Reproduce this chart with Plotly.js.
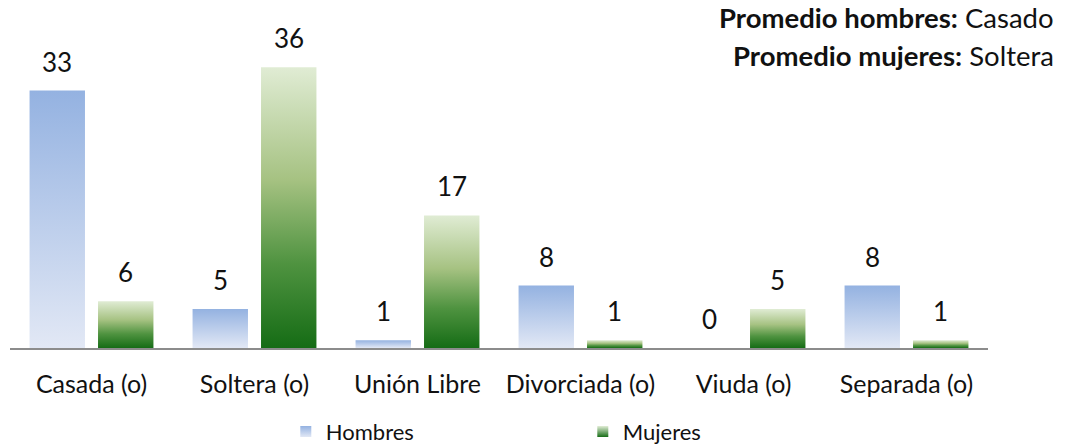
<!DOCTYPE html>
<html>
<head>
<meta charset="utf-8">
<script src="https://cdn.plot.ly/plotly-3.0.1.min.js"></script>
<style>body { margin: 0; background: #fff; }</style>
</head>
<body>
<div id="chart" style="width:1065px;height:447px;"></div>
<script>
// data
var categories = ['Casada (o)', 'Soltera (o)', 'Unión Libre', 'Divorciada (o)', 'Viuda (o)', 'Separada (o)'];
var hombres = [33, 5, 1, 8, 0, 8];
var mujeres = [6, 36, 17, 1, 5, 1];
var seriesNames = ['Hombres', 'Mujeres'];

var FONT = 'Lato, "Noto Sans", sans-serif';
var BAR_W = 0.34;
var INNER_GAP = 0.08;

var blueScale = [[0, '#e2e8f5'], [1, '#94b2e1']];
var greenScale = [[0, '#156c15'], [0.3, '#4f9340'], [0.6, '#a6c282'], [1, '#e0ecd4']];

var traces = [];
var annotations = [];

// one filled box per bar so every bar gets its own vertical gradient
function addBars(values, name, scale, left) {
    values.forEach(function (v, i) {
        var x0 = left ? i - INNER_GAP / 2 - BAR_W : i + INNER_GAP / 2;
        var x1 = x0 + BAR_W;
        if (v > 0) {
            traces.push({
                x: [x0, x1, x1, x0, x0],
                y: [0, 0, v, v, 0],
                type: 'scatter',
                mode: 'lines',
                fill: 'toself',
                line: { width: 0 },
                fillgradient: { type: 'vertical', colorscale: scale },
                showlegend: false,
                hoverinfo: 'skip',
                name: name
            });
        }
        annotations.push({
            x: (x0 + x1) / 2, y: v, xref: 'x', yref: 'y',
            text: String(v), showarrow: false,
            yanchor: 'bottom', yshift: 11,
            font: { family: FONT, size: 26, color: '#111' }
        });
    });
}

addBars(hombres, seriesNames[0], blueScale, true);
addBars(mujeres, seriesNames[1], greenScale, false);

// legend entries
traces.push({
    x: [null], y: [null], type: 'scatter', mode: 'markers', name: seriesNames[0],
    marker: { symbol: 'square', size: 11, color: '#94b2e1', gradient: { type: 'vertical', color: '#e2e8f5' } }
});
traces.push({
    x: [null], y: [null], type: 'scatter', mode: 'markers', name: seriesNames[1],
    marker: { symbol: 'square', size: 11, color: '#e0ecd4', gradient: { type: 'vertical', color: '#156c15' } }
});

annotations.push({
    xref: 'paper', yref: 'paper', x: 1.07, y: 1.058, xanchor: 'right', yanchor: 'middle',
    text: '<b>Promedio hombres:</b> Casado', showarrow: false,
    font: { family: FONT, size: 27.5, color: '#111' }
});
annotations.push({
    xref: 'paper', yref: 'paper', x: 1.07, y: 0.939, xanchor: 'right', yanchor: 'middle',
    text: '<b>Promedio mujeres:</b> Soltera', showarrow: false,
    font: { family: FONT, size: 27.5, color: '#111' }
});

var layout = {
    width: 1065,
    height: 447,
    margin: { l: 10, r: 77, t: 36, b: 99, autoexpand: false },
    paper_bgcolor: '#fff',
    plot_bgcolor: '#fff',
    font: { family: FONT, color: '#111' },
    xaxis: {
        range: [-0.5, categories.length - 0.5],
        tickvals: categories.map(function (c, i) { return i; }),
        ticktext: categories,
        showgrid: false,
        zeroline: false,
        showline: true,
        linecolor: '#8c8c8c',
        linewidth: 2,
        ticks: '',
        ticklabelstandoff: 13,
        tickfont: { family: FONT, size: 25, color: '#111' },
        fixedrange: true
    },
    yaxis: {
        range: [0, 40],
        visible: false,
        fixedrange: true
    },
    showlegend: true,
    legend: {
        orientation: 'h',
        x: 0.282, xanchor: 'left',
        yref: 'container',
        y: 0.034, yanchor: 'middle',
        entrywidth: 252,
        font: { family: FONT, size: 22, color: '#111' }
    },
    annotations: annotations
};

Plotly.newPlot('chart', traces, layout, { displayModeBar: false, staticPlot: true });
</script>
</body>
</html>
